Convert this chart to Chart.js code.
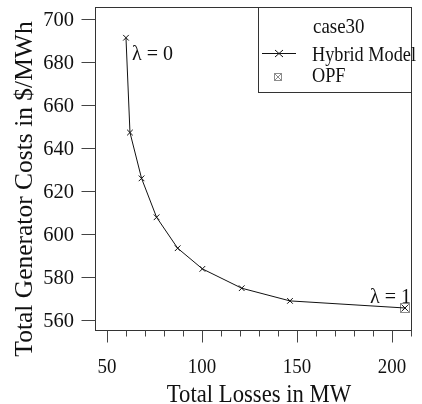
<!DOCTYPE html>
<html>
<head>
<meta charset="utf-8">
<script src="https://cdn.jsdelivr.net/npm/chart.js@4"></script>
<style>
  html, body { margin: 0; padding: 0; background: #fff; }
  #wrap { width: 422px; height: 404px; }
</style>
</head>
<body>
<div id="wrap"><canvas id="c" width="422" height="404"></canvas></div>
<script>
// --- data ---
const losses = [60.0, 62.1, 68.2, 76.1, 87.2, 100.2, 120.9, 146.3, 206.8];
const costs = [691.3, 647.2, 625.9, 607.8, 593.4, 583.8, 574.8, 568.9, 565.6];
const opfLoss = [206.8];
const opfCost = [565.6];
const xMajor = [50, 100, 150, 200];
const xMinor = [50, 60, 70, 80, 90, 100, 110, 120, 130, 140, 150, 160, 170, 180, 190, 200, 210];
const yTicks = [560, 580, 600, 620, 640, 660, 680, 700];
const seriesNames = ['Hybrid Model', 'OPF'];
const legendTitle = 'case30';
const xTitle = 'Total Losses in MW';
const yTitle = 'Total Generator Costs in $/MWh';

const FONT = '"Liberation Serif", "Times New Roman", serif';
const INK = '#111';

// marcador del OPF: cuadro gris con una X dentro
function opfMarker(size) {
    const cv = document.createElement('canvas');
    cv.width = size; cv.height = size;
    const g = cv.getContext('2d');
    g.strokeStyle = '#8c8c8c';
    g.lineWidth = 1;
    g.strokeRect(0.5, 0.5, size - 1, size - 1);
    g.beginPath();
    g.moveTo(1, 1); g.lineTo(size - 1, size - 1);
    g.moveTo(size - 1, 1); g.lineTo(1, size - 1);
    g.stroke();
    return cv;
}

// quita el relleno automatico que Chart.js deja para las etiquetas
function noPad(s) {
    s.paddingTop = 0; s.paddingBottom = 0;
    s.paddingLeft = 0; s.paddingRight = 0;
}

// texto algo estrecho como en la figura original
function text(ctx, str, x, y, size, sx, align, rot) {
    ctx.save();
    ctx.translate(x, y);
    if (rot) ctx.rotate(rot);
    ctx.scale(sx, 1);
    ctx.font = size + 'px ' + FONT;
    ctx.textAlign = align;
    ctx.textBaseline = 'alphabetic';
    ctx.fillStyle = INK;
    ctx.fillText(str, 0, 0);
    ctx.restore();
}

// dibuja caja, marcas de ejes, etiquetas, titulos, leyenda y anotaciones
const framePlugin = {
    id: 'frame',
    afterDraw(chart) {
        const ctx = chart.ctx;
        const a = chart.chartArea;
        const xs = chart.scales.x, ys = chart.scales.y;
        ctx.save();
        ctx.strokeStyle = '#333';
        ctx.lineWidth = 1;
        ctx.strokeRect(Math.round(a.left) + 0.5, Math.round(a.top) + 0.5,
                       Math.round(a.right - a.left) - 1, Math.round(a.bottom - a.top) - 1);

        // marcas eje x
        const yb = Math.round(a.bottom) - 0.5;
        ctx.beginPath();
        xMinor.forEach(v => {
            const px = Math.round(xs.getPixelForValue(v)) + 0.5;
            const len = xMajor.includes(v) ? 12 : 6;
            ctx.moveTo(px, yb); ctx.lineTo(px, yb + len);
        });
        // marcas eje y
        const xl = Math.round(a.left) + 0.5;
        yTicks.forEach(v => {
            const py = Math.round(ys.getPixelForValue(v)) + 0.5;
            ctx.moveTo(xl, py); ctx.lineTo(xl - 14, py);
        });
        ctx.strokeStyle = '#444';
        ctx.stroke();

        // etiquetas de ejes
        xMajor.forEach(v => text(ctx, String(v), xs.getPixelForValue(v), 373, 22, 0.86, 'center'));
        yTicks.forEach(v => text(ctx, String(v), 74, ys.getPixelForValue(v) + 7, 20.5, 1, 'right'));

        // titulos de ejes
        text(ctx, xTitle, 259, 401.5, 25.5, 0.89, 'center');
        text(ctx, yTitle, 32, 189, 25.5, 1, 'center', -Math.PI / 2);

        // anotaciones lambda
        const p0x = xs.getPixelForValue(losses[0]);
        const p0y = ys.getPixelForValue(costs[0]);
        text(ctx, 'λ = 0', p0x + 6, p0y + 22, 20, 1, 'left');
        const p1x = xs.getPixelForValue(losses[losses.length - 1]);
        const p1y = ys.getPixelForValue(costs[costs.length - 1]);
        text(ctx, 'λ = 1', p1x + 6, p1y - 5, 20, 1, 'right');

        // leyenda
        const lx = 258, ly = Math.round(a.top), lw = Math.round(a.right) - 258, lh = 86;
        ctx.fillStyle = '#fff';
        ctx.fillRect(lx, ly, lw, lh);
        ctx.strokeStyle = '#333';
        ctx.strokeRect(lx + 0.5, ly + 0.5, lw - 1, lh - 1);
        text(ctx, legendTitle, 313, 33, 21, 0.9, 'left');
        text(ctx, seriesNames[0], 312, 61, 21, 0.87, 'left');
        text(ctx, seriesNames[1], 312, 82, 21, 0.87, 'left');
        ctx.beginPath();
        ctx.strokeStyle = INK;
        ctx.moveTo(262, 53.5); ctx.lineTo(296, 53.5);
        ctx.moveTo(275, 50); ctx.lineTo(283, 57);
        ctx.moveTo(283, 50); ctx.lineTo(275, 57);
        ctx.stroke();
        ctx.drawImage(opfMarker(8), 274, 73);
        ctx.restore();
    }
};

new Chart(document.getElementById('c'), {
    type: 'scatter',
    data: {
        datasets: [{
            label: seriesNames[0],
            data: losses.map((x, i) => ({ x: x, y: costs[i] })),
            showLine: true,
            borderColor: INK,
            borderWidth: 1,
            pointStyle: 'crossRot',
            pointRadius: 4,
            pointBorderColor: INK,
            pointBorderWidth: 1
        }, {
            label: seriesNames[1],
            data: opfLoss.map((x, i) => ({ x: x, y: opfCost[i] })),
            pointStyle: opfMarker(10),
            pointRadius: 5
        }]
    },
    options: {
        responsive: false,
        animation: false,
        layout: { padding: { left: 0, right: 10, top: 7, bottom: 0 } },
        plugins: { legend: { display: false }, tooltip: { enabled: false } },
        scales: {
            x: {
                type: 'linear',
                min: 43.7,
                max: 210.5,
                afterBuildTicks: s => { s.ticks = xMajor.map(v => ({ value: v })); },
                afterFit: s => { s.height = 73; noPad(s); },
                grid: { display: false, drawTicks: false },
                border: { display: false },
                ticks: { display: false }
            },
            y: {
                type: 'linear',
                min: 554.9,
                max: 705.6,
                afterBuildTicks: s => { s.ticks = yTicks.map(v => ({ value: v })); },
                afterFit: s => { s.width = 95; noPad(s); },
                grid: { display: false, drawTicks: false },
                border: { display: false },
                ticks: { display: false }
            }
        }
    },
    plugins: [framePlugin]
});
</script>
</body>
</html>
